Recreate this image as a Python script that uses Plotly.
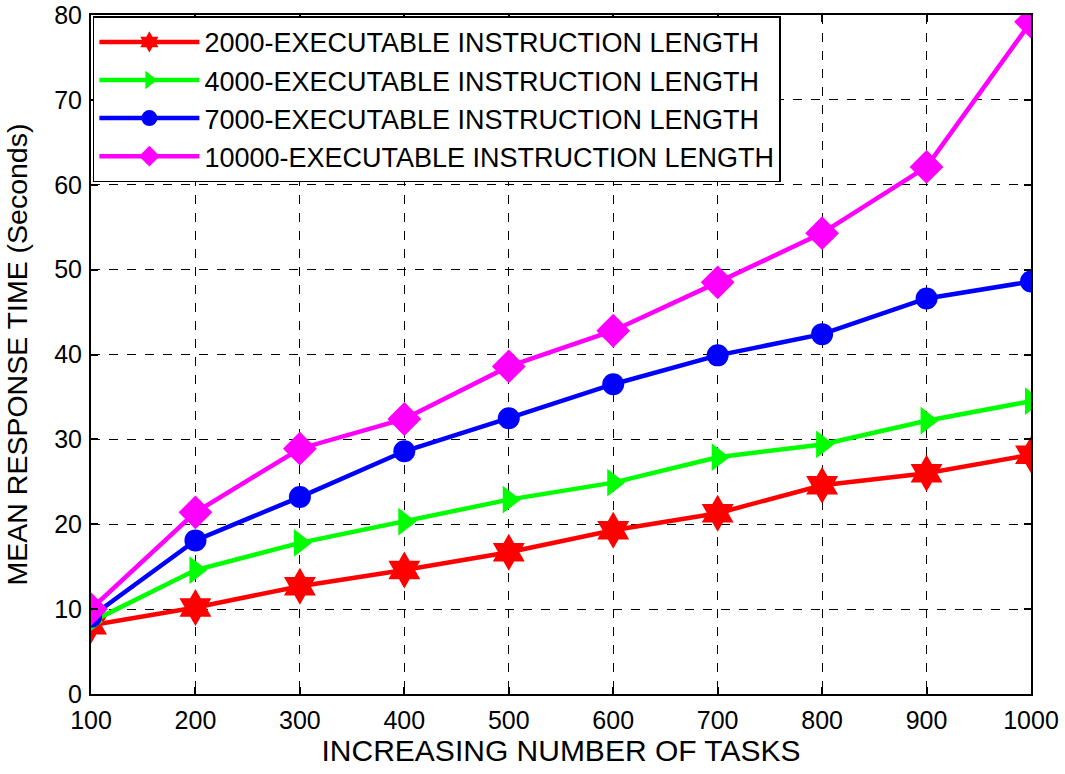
import plotly.graph_objects as go

tasks = [100, 200, 300, 400, 500, 600, 700, 800, 900, 1000]
len_2000 = [8.1, 10.2, 12.7, 14.6, 16.7, 19.3, 21.3, 24.6, 26.0, 28.2]
len_4000 = [8.5, 14.6, 17.8, 20.3, 22.9, 24.9, 27.9, 29.4, 32.2, 34.5]
len_7000 = [9.1, 18.1, 23.2, 28.6, 32.5, 36.5, 39.9, 42.4, 46.6, 48.6]
len_10000 = [10.0, 21.4, 28.9, 32.4, 38.6, 42.8, 48.5, 54.3, 62.1, 79.2]

names = ["2000-EXECUTABLE INSTRUCTION LENGTH", "4000-EXECUTABLE INSTRUCTION LENGTH",
         "7000-EXECUTABLE INSTRUCTION LENGTH", "10000-EXECUTABLE INSTRUCTION LENGTH"]
series = [len_2000, len_4000, len_7000, len_10000]
colors = ["#ff0000", "#00ff00", "#0000ff", "#ff00ff"]
symbols = ["hexagram", "triangle-right", "circle", "diamond"]
sizes = [28, 24, 22, 26]

FONT = "Liberation Sans, Arial"

fig = go.Figure()
for n, s, c, m, sz in zip(names, series, colors, symbols, sizes):
    fig.add_trace(go.Scatter(x=tasks, y=s, name=n, mode="lines+markers",
                             line=dict(color=c, width=4.5),
                             marker=dict(symbol=m, size=sz, color=c, line=dict(width=0))))

axis_common = dict(showline=True, linecolor="black", linewidth=2, mirror="ticks",
                   ticks="inside", ticklen=7, tickcolor="black", tickwidth=1.5,
                   showgrid=True, gridcolor="black", griddash="dash", gridwidth=1.2,
                   zeroline=False, automargin=False, ticklabeloverflow="allow",
                   tickfont=dict(family=FONT, size=25, color="black"))

fig.update_layout(
    width=1065, height=774,
    paper_bgcolor="white", plot_bgcolor="white",
    margin=dict(l=91, r=34, t=15, b=80),
    font=dict(family=FONT, size=27, color="black"),
    xaxis=dict(range=[100, 1000], tickvals=tasks, ticktext=[str(t) for t in tasks],
               ticklabelstandoff=3,
               title=dict(text="INCREASING NUMBER OF TASKS", font=dict(size=30), standoff=2),
               **axis_common),
    yaxis=dict(range=[0, 80], tickvals=[0, 10, 20, 30, 40, 50, 60, 70, 80],
               ticklabelstandoff=2,
               title=dict(text="MEAN RESPONSE TIME (Seconds)", font=dict(size=28.5), standoff=18),
               **axis_common),
    legend=dict(x=0.002, y=0.998, xanchor="left", yanchor="top",
                bgcolor="white", bordercolor="black", borderwidth=1.5,
                font=dict(family=FONT, size=27), itemwidth=100, tracegroupgap=0),
    showlegend=True,
)

fig.write_html("out.html", config={"displayModeBar": False},
               post_script="document.body.style.margin='0';document.body.style.overflow='hidden';")
